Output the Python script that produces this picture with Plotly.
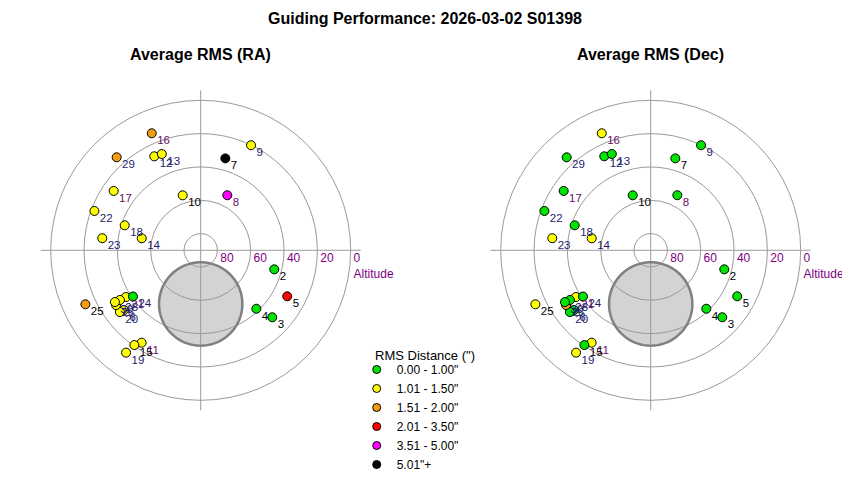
import math
import plotly.graph_objects as go

# ---------------- data ----------------
labels = ["2", "3", "4", "5", "6", "7", "8", "9", "10", "11", "12", "13", "14", "15",
          "16", "17", "18", "19", "20", "21", "22", "23", "24", "25", "26", "28", "29", "30"]
altitude = [44.4, 31.2, 41.6, 31.2, 31.7, 32.9, 53.3, 20.1, 55.3, 24.2, 27.1, 27.7, 53.9, 20.6,
            13.9, 26.8, 42.0, 14.0, 29.0, 37.1, 22.0, 30.5, 40.8, 13.6, 29.5, 33.1, 14.8, 29.9]
azimuth = [284.5, 313.1, 316.4, 298.0, 52.1, 195.0, 205.8, 205.6, 161.9, 32.6, 153.7, 158.0, 101.5, 35.0,
           157.3, 124.3, 108.2, 36.1, 52.6, 58.0, 110.3, 97.0, 55.7, 64.9, 57.1, 58.4, 137.9, 58.9]
# RMS class index (0..5) per point for each panel
ra_class = [0, 0, 0, 3, 1, 5, 4, 1, 1, 1, 1, 1, 1, 1,
            2, 1, 1, 1, 1, 1, 1, 1, 0, 2, 1, 1, 2, 1]
dec_class = [0, 0, 0, 0, 0, 0, 0, 0, 0, 1, 0, 0, 1, 0,
             1, 0, 0, 1, 0, 1, 0, 1, 0, 1, 2, 0, 0, 0]
label_color_idx = [0, 0, 0, 0, 1, 0, 2, 1, 0, 2, 1, 1, 1, 0,
                   2, 2, 1, 1, 1, 2, 1, 1, 1, 0, 1, 1, 1, 1]

class_names = ['0.00 - 1.00"', '1.01 - 1.50"', '1.51 - 2.00"', '2.01 - 3.50"', '3.51 - 5.00"', '5.01"+']
class_colors = ["#00e400", "#ffff00", "#f39c12", "#ff0000", "#ff00ff", "#000000"]
label_palette = ["#000000", "#1c1c6b", "#6a0d63"]
legend_title = 'RMS Distance (")'

alt_ticks = [80, 60, 40, 20, 0]
compass_text = ["S", "N", "E", "W"]
compass_az = [180, 0, 90, 270]

pole_alt = 57.8          # centre of grey disc (altitude, towards North)
pole_radius = 25.0       # disc radius in zenith-distance degrees

panel_titles = ["Average RMS (RA)", "Average RMS (Dec)"]
main_title = "Guiding Performance: 2026-03-02 S01398"

# ---------------- layout helpers ----------------
OFF = 8                  # page body margin
FW, FH = 850 - OFF, 480 - 2 * OFF
FONT = "Liberation Sans, Arial, sans-serif"
R_MAX = 96
PX_R = 160
centers = [(200.7, 250.3), (650.7, 250.3)]
GRID = "#9a9a9a"
PURPLE = "#800080"
NB = "\u00a0"


def px_x(x):
    return (x - OFF) / FW


def px_y(y):
    return 1 - (y - OFF) / FH


def disc_points():
    cy = -(90 - pole_alt)
    rs, ts = [], []
    for k in range(0, 361, 3):
        a = math.radians(k)
        X = pole_radius * math.cos(a)
        Y = cy + pole_radius * math.sin(a)
        rs.append(math.hypot(X, Y))
        ts.append(math.degrees(math.atan2(-X, -Y)) % 360)
    return rs, ts


fig = go.Figure()
disc_r, disc_t = disc_points()
zd = [90 - a for a in altitude]

for p, classes in enumerate([ra_class, dec_class]):
    sub = "polar" if p == 0 else "polar2"
    fig.add_trace(go.Scatterpolar(
        r=disc_r, theta=disc_t, mode="lines", fill="toself",
        fillcolor="rgba(150,150,150,0.42)", line=dict(color="#808080", width=2.5),
        hoverinfo="skip", showlegend=False, subplot=sub))
    fig.add_trace(go.Scatterpolar(
        r=zd, theta=azimuth, mode="markers",
        marker=dict(size=9, color=[class_colors[c] for c in classes], line=dict(color="black", width=1)),
        showlegend=False, subplot=sub, cliponaxis=False))
    fig.add_trace(go.Scatterpolar(
        r=zd, theta=azimuth, mode="markers+text",
        text=[NB + s for s in labels], textposition="bottom right",
        textfont=dict(size=11.5, family=FONT, color=[label_palette[i] for i in label_color_idx]),
        marker=dict(size=2, color="rgba(0,0,0,0)"),
        showlegend=False, hoverinfo="skip", subplot=sub, cliponaxis=False))
    tick_text = [str(t) for t in alt_ticks]
    tick_text[-1] = tick_text[-1] + "<br>Altitude"
    fig.add_trace(go.Scatterpolar(
        r=[90 - t for t in alt_ticks], theta=[270] * len(alt_ticks), mode="markers+text",
        text=tick_text, textposition="bottom right",
        marker=dict(size=3, color="rgba(0,0,0,0)"),
        textfont=dict(size=12, family=FONT, color=PURPLE),
        showlegend=False, hoverinfo="skip", subplot=sub, cliponaxis=False))
    fig.add_trace(go.Scatterpolar(
        r=[105] * 4, theta=compass_az, mode="text", text=compass_text,
        textposition="middle center", textfont=dict(size=17, family=FONT, color="black"),
        showlegend=False, hoverinfo="skip", subplot=sub, cliponaxis=False))

for i, name in enumerate(class_names):
    fig.add_trace(go.Scatterpolar(
        r=[None], theta=[None], mode="markers", name=name,
        marker=dict(size=8, color=class_colors[i], line=dict(color="black", width=1)),
        subplot="polar"))


def polar_cfg(cx, cy):
    return dict(
        domain=dict(x=[px_x(cx - PX_R), px_x(cx + PX_R)],
                    y=[px_y(cy + PX_R), px_y(cy - PX_R)]),
        bgcolor="white",
        radialaxis=dict(range=[0, R_MAX], tickvals=[90 - t for t in alt_ticks],
                        showticklabels=False, ticks="", showline=False,
                        gridcolor=GRID, gridwidth=1),
        angularaxis=dict(direction="clockwise", rotation=270, tickvals=[0, 90, 180, 270],
                         showticklabels=False, ticks="", showline=False,
                         gridcolor=GRID, gridwidth=1),
    )


annotations = []
for (cx, cy), t in zip(centers, panel_titles):
    annotations.append(dict(text="<b>%s</b>" % t, x=px_x(cx), y=px_y(55), xref="paper", yref="paper",
                            showarrow=False, xanchor="center", yanchor="middle",
                            font=dict(size=16, family=FONT, color="black")))
annotations.append(dict(text=legend_title, x=px_x(373), y=px_y(355), xref="paper", yref="paper",
                        showarrow=False, xanchor="left", yanchor="middle",
                        font=dict(size=13, family=FONT, color="black")))

fig.update_layout(
    width=FW, height=FH, margin=dict(l=0, r=0, t=0, b=0, autoexpand=False),
    paper_bgcolor="white", plot_bgcolor="white",
    font=dict(family=FONT, color="black"),
    title=dict(text="<b>%s</b>" % main_title, x=px_x(425), xanchor="center", y=px_y(18), yanchor="middle",
               font=dict(size=16, family=FONT, color="black")),
    polar=polar_cfg(*centers[0]),
    polar2=polar_cfg(*centers[1]),
    annotations=annotations,
    legend=dict(x=px_x(356.7), y=px_y(355), xanchor="left", yanchor="top",
                font=dict(size=12, family=FONT), bgcolor="rgba(0,0,0,0)"),
)

fig.write_html("out.html")
